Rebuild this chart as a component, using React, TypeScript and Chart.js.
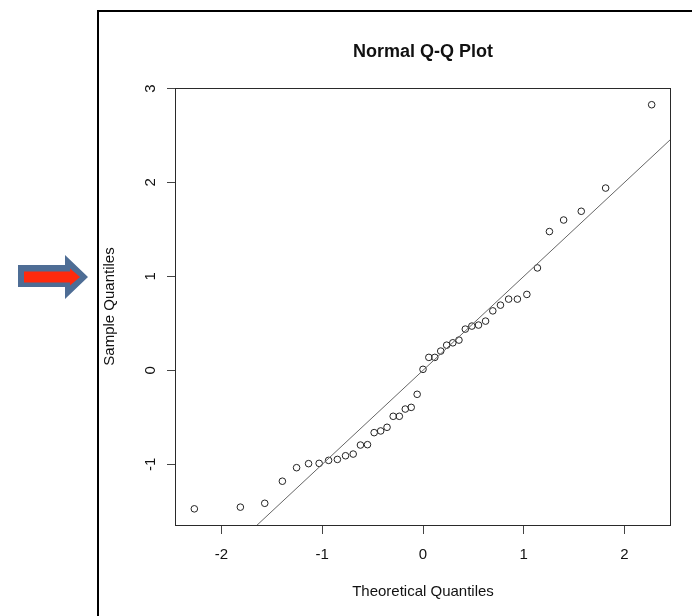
import React, { useEffect, useRef } from "react";
import { Chart, registerables } from "chart.js";

Chart.register(...registerables);

// Theoretical normal quantiles (x) and sorted sample values (y)
const theoreticalQuantiles = [
  -2.27, -1.813, -1.571, -1.396, -1.255, -1.136, -1.031, -0.937, -0.85, -0.769,
  -0.693, -0.621, -0.551, -0.485, -0.42, -0.357, -0.296, -0.235, -0.176, -0.117,
  -0.058, 0, 0.058, 0.117, 0.176, 0.235, 0.296, 0.357, 0.42, 0.485,
  0.551, 0.621, 0.693, 0.769, 0.85, 0.937, 1.031, 1.136, 1.255, 1.396,
  1.571, 1.813, 2.27,
];
const sampleQuantiles = [
  -1.474, -1.456, -1.415, -1.18, -1.036, -0.993, -0.99, -0.958, -0.948, -0.909,
  -0.891, -0.795, -0.791, -0.663, -0.645, -0.606, -0.489, -0.489, -0.412, -0.394,
  -0.255, 0.011, 0.138, 0.138, 0.205, 0.268, 0.293, 0.322, 0.439, 0.471,
  0.482, 0.524, 0.633, 0.694, 0.758, 0.758, 0.808, 1.09, 1.477, 1.6,
  1.693, 1.94, 2.827,
];
// Reference line end points (y = x)
const refLineX = [-2.6, 2.6];
const refLineY = [-2.6, 2.6];
// Axis ticks and ranges
const xTickValues = [-2, -1, 0, 1, 2];
const yTickValues = [-1, 0, 1, 2, 3];
const xRange = [-2.452, 2.452];
const yRange = [-1.646, 3.005];

const FONT = "'Liberation Sans', Arial, Helvetica, sans-serif";

const plotBox = {
  id: "plotBox",
  afterDraw(chart: any) {
    const { ctx, chartArea } = chart;
    const { left, top, right, bottom } = chartArea;
    ctx.save();
    ctx.strokeStyle = "#2a2a2a";
    ctx.lineWidth = 1;
    ctx.strokeRect(left - 0.5, top + 0.5, right - left + 1, bottom - top);
    ctx.restore();
  },
};

export default function App() {
  const canvasRef = useRef<HTMLCanvasElement | null>(null);

  useEffect(() => {
    const canvas = canvasRef.current;
    if (!canvas) return;
    const chart = new Chart(canvas, {
      type: "scatter",
      data: {
        datasets: [
          {
            label: "Sample",
            data: theoreticalQuantiles.map((x, i) => ({ x, y: sampleQuantiles[i] })),
            pointRadius: 3.3,
            pointHoverRadius: 3.3,
            pointBorderWidth: 1,
            pointBorderColor: "#222",
            pointBackgroundColor: "rgba(0,0,0,0)",
            showLine: false,
            order: 2,
          } as any,
          {
            label: "Reference line",
            data: refLineX.map((x, i) => ({ x, y: refLineY[i] })),
            showLine: true,
            borderColor: "#666",
            borderWidth: 1,
            pointRadius: 0,
            clip: 0,
            order: 1,
          } as any,
        ],
      },
      options: {
        animation: false,
        responsive: false,
        devicePixelRatio: 1,
        layout: { padding: { left: 0, right: 22, top: 0, bottom: 0 } },
        plugins: {
          legend: { display: false },
          tooltip: { enabled: false },
          title: {
            display: true,
            text: "Normal Q-Q Plot",
            fullSize: false,
            color: "#111",
            font: { family: FONT, size: 18, weight: "bold", lineHeight: 1.2 },
            padding: { top: 41.7, bottom: 24.7 },
          },
        },
        scales: {
          x: {
            type: "linear",
            position: "bottom",
            min: xRange[0],
            max: xRange[1],
            afterBuildTicks: (s: any) => {
              s.ticks = xTickValues.map((v) => ({ value: v }));
            },
            afterFit: (s: any) => {
              s.height = 91;
            },
            grid: {
              display: true,
              drawOnChartArea: false,
              drawTicks: true,
              tickLength: 9,
              tickColor: "#444",
              color: "#444",
            },
            border: { display: false },
            ticks: {
              color: "#111",
              font: { family: FONT, size: 15 },
              padding: 12,
              minRotation: 0,
              maxRotation: 0,
              autoSkip: false,
              callback: (v: any) => String(v),
            },
            title: {
              display: true,
              text: "Theoretical Quantiles",
              color: "#111",
              font: { family: FONT, size: 15 },
              padding: { top: 0, bottom: 15.3 },
            },
          },
          y: {
            type: "linear",
            position: "left",
            min: yRange[0],
            max: yRange[1],
            afterBuildTicks: (s: any) => {
              s.ticks = yTickValues.map((v) => ({ value: v }));
            },
            afterFit: (s: any) => {
              s.width = 176;
            },
            grid: {
              display: true,
              drawOnChartArea: false,
              drawTicks: true,
              tickLength: 9,
              tickColor: "#444",
              color: "#444",
            },
            border: { display: false },
            ticks: {
              color: "#111",
              font: { family: FONT, size: 15 },
              padding: 9.8,
              minRotation: 90,
              maxRotation: 90,
              crossAlign: "center",
              autoSkip: false,
              callback: (v: any) => String(v),
            },
            title: {
              display: true,
              text: "Sample Quantiles",
              color: "#111",
              font: { family: FONT, size: 15 },
              padding: { top: 101, bottom: 0 },
            },
          },
        },
      } as any,
      plugins: [plotBox],
    });
    return () => chart.destroy();
  }, []);

  return (
    <div
      style={{
        position: "fixed",
        left: 0,
        top: 0,
        width: 692,
        height: 616,
        overflow: "hidden",
        background: "#fff",
      }}
    >
      <canvas
        ref={canvasRef}
        width={692}
        height={616}
        style={{ position: "absolute", left: 0, top: 0, width: 692, height: 616 }}
      />
      <div
        style={{
          position: "absolute",
          left: 97,
          top: 10,
          width: 800,
          height: 800,
          border: "2px solid #000",
          pointerEvents: "none",
        }}
      />
      <svg
        width={692}
        height={616}
        style={{ position: "absolute", left: 0, top: 0, pointerEvents: "none" }}
      >
        <polygon
          points="18,265 65,265 65,255 88,277 65,299 65,287 18,287"
          fill="#4e6d95"
        />
        <polygon
          points="24,271.5 70,271.5 70,268.5 80,277 70,285.5 70,282.5 24,282.5"
          fill="#ff2a0d"
        />
      </svg>
    </div>
  );
}
